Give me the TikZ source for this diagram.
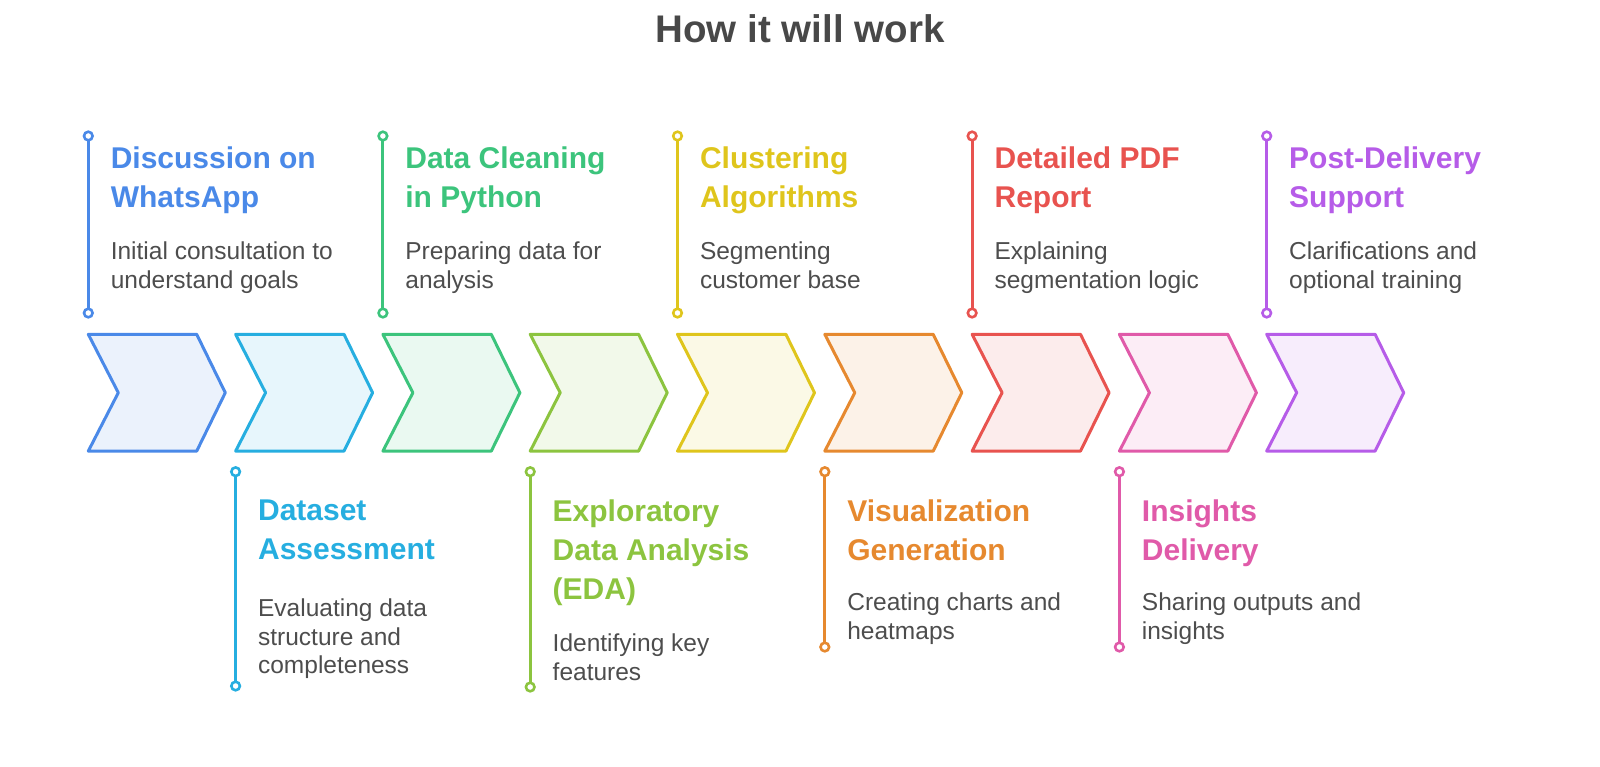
\documentclass[tikz,border=0pt]{standalone}
\usepackage{fontspec}
\setmainfont{Liberation Sans}
\definecolor{cblue}{HTML}{4A89E8}
\definecolor{ccyan}{HTML}{26AEE0}
\definecolor{cgreen}{HTML}{3CC47C}
\definecolor{clime}{HTML}{8CC43F}
\definecolor{cyellow}{HTML}{DFC51C}
\definecolor{corange}{HTML}{E6892F}
\definecolor{cred}{HTML}{E8534F}
\definecolor{cpink}{HTML}{E05AA9}
\definecolor{cviolet}{HTML}{B65CE8}
\definecolor{chead}{HTML}{484848}
\definecolor{cbody}{HTML}{4D4D4D}
\begin{document}
\begin{tikzpicture}[
  x=1pt, y=-1pt,
  every node/.style={inner sep=0pt, outer sep=0pt},
  chev/.style={line width=3pt, line join=round},
  % step titles and their notes
  ttl/.style={anchor=north west, align=left, font=\fontsize{30}{39}\selectfont\bfseries},
  dsc/.style={anchor=north west, align=left, text=cbody, font=\fontsize{24.5}{28.5}\selectfont},
  stem/.style={line width=3pt},
  knob/.style={line width=2.6pt, fill=white}
]
\useasboundingbox (0,0) rectangle (1600,766);
\node[anchor=base, text=chead, font=\fontsize{38.5}{46}\selectfont\bfseries] (head) at (800,42.7) {How it will work};

% arrow band
\foreach \col [count=\i from 0] in {cblue,ccyan,cgreen,clime,cyellow,corange,cred,cpink,cviolet}
  \draw[chev, draw=\col, fill=\col!11] ({88.3+147.3*\i},334.3) -- ++(108.4,0) -- ++(28.6,58.4)
    -- ++(-28.6,58.4) -- ++(-108.4,0) -- ++(30,-58.4) -- cycle;

% x index / colour / title / note / title top / note top / stem ends
\foreach \i/\col/\ttltext/\dsctext/\ty/\dy/\sa/\sb in {
  0/cblue/{Discussion on\\WhatsApp}/{Initial consultation to\\understand goals}/146.5/241.8/136/313,
  1/ccyan/{Dataset\\Assessment}/{Evaluating data\\structure and\\completeness}/500/599.2/471.7/686,
  2/cgreen/{Data Cleaning\\in Python}/{Preparing data for\\analysis}/146.5/241.8/136/313,
  3/clime/{Exploratory\\Data Analysis\\(EDA)}/{Identifying key\\features}/500/634.2/471.7/687,
  4/cyellow/{Clustering\\Algorithms}/{Segmenting\\customer base}/146.5/241.8/136/313,
  5/corange/{Visualization\\Generation}/{Creating charts and\\heatmaps}/500/593.2/471.7/647,
  6/cred/{Detailed PDF\\Report}/{Explaining\\segmentation logic}/146.5/241.8/136/313,
  7/cpink/{Insights\\Delivery}/{Sharing outputs and\\insights}/500/593.2/471.7/647,
  8/cviolet/{Post-Delivery\\Support}/{Clarifications and\\optional training}/146.5/241.8/136/313}{
  \node[ttl, text=\col] (ttl\i) at ({110.8+147.3*\i},\ty) {\ttltext};
  \node[dsc] (dsc\i) at ({110.8+147.3*\i},\dy) {\dsctext};
  \draw[stem, draw=\col] ({88.3+147.3*\i},\sa) -- ({88.3+147.3*\i},\sb);
  \draw[knob, draw=\col] ({88.3+147.3*\i},\sa) circle (4.3);
  \draw[knob, draw=\col] ({88.3+147.3*\i},\sb) circle (4.3);
}
\end{tikzpicture}
\end{document}
